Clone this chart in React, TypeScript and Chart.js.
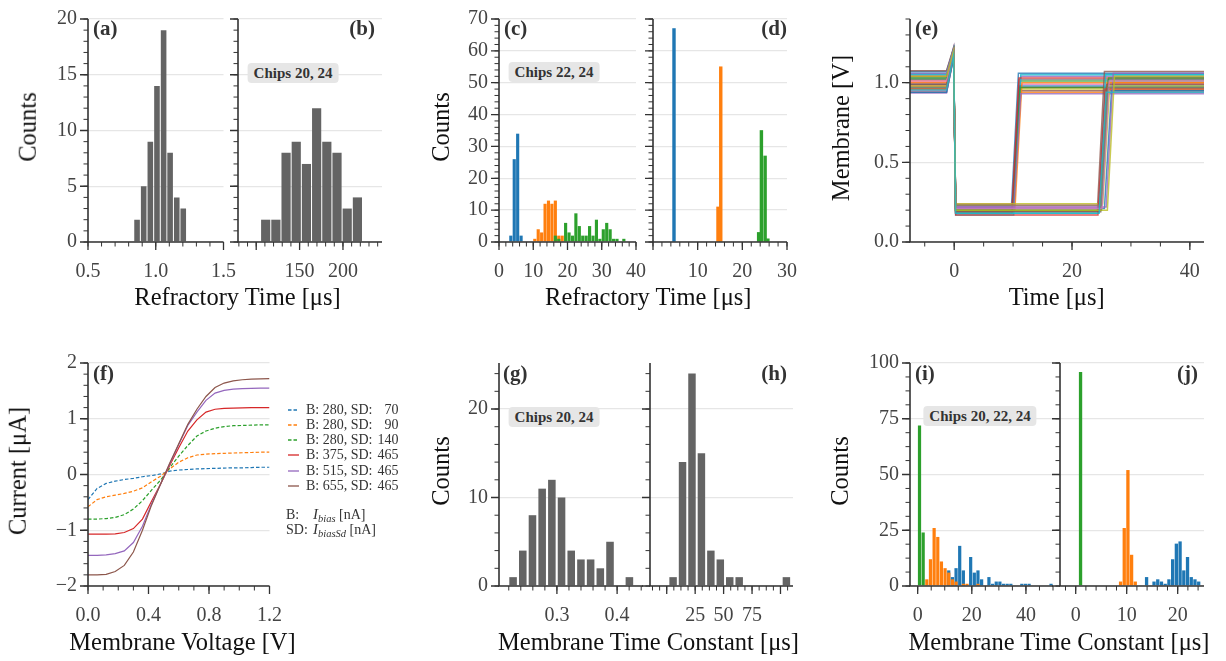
import React, { useEffect, useRef } from 'react';
import { Chart, registerables } from 'chart.js';

Chart.register(...registerables);

const FONT = "'Liberation Serif', 'Times New Roman', Times, serif";
Chart.defaults.font.family = FONT;

const COL_BLUE = '#1f77b4';
const COL_ORANGE = '#ff7f0e';
const COL_GREEN = '#2ca02c';
const COL_RED = '#d62728';
const COL_PURPLE = '#9467bd';
const COL_BROWN = '#8c564b';
const TAB10 = ['#1f77b4', '#ff7f0e', '#2ca02c', '#d62728', '#9467bd', '#8c564b', '#e377c2', '#7f7f7f', '#bcbd22', '#17becf'];
const BAR_GREY = '#646464';
const TICK_COLOR = '#444444';

// ---------- (a) refractory time histogram ----------
const A_X = [0.862, 0.911, 0.96, 1.009, 1.058, 1.106, 1.155, 1.203];
const A_Y = [2, 5, 9, 14, 19, 8, 4, 3];
// ---------- (b) ----------
const B_X = [110.9, 122.65, 134.4, 146.15, 157.9, 169.65, 181.4, 193.15, 204.9, 216.65];
const B_Y = [2, 2, 8, 9, 7, 12, 9, 8, 3, 4];
// ---------- (c) ----------
const C_BLUE_X = [3.45, 4.45, 5.45, 6.45];
const C_BLUE_Y = [2, 26, 34, 2];
const C_ORANGE_X = [10.45, 11.45, 12.45, 13.45, 14.45, 15.45, 16.45, 17.45, 18.45];
const C_ORANGE_Y = [1, 4, 3, 12, 13, 12, 13, 2, 2];
const C_GREEN_X = [16.45, 17.45, 18.45, 19.45, 20.45, 21.45, 22.45, 23.45, 24.45, 25.45, 26.45, 27.45, 28.45, 29.45, 30.45, 31.45, 32.45, 33.45, 34.45, 35.45, 36.45];
const C_GREEN_Y = [2, 1, 0, 6, 3, 2, 9, 5, 2, 2, 5, 2, 7, 1, 4, 6, 4, 1, 1, 0, 1];
// ---------- (d) ----------
const D_BLUE_X = [4.7];
const D_BLUE_Y = [67];
const D_ORANGE_X = [14.55, 15.17];
const D_ORANGE_Y = [11, 55];
const D_GREEN_X = [23.65, 24.27, 25.1, 25.72];
const D_GREEN_Y = [3, 35, 27, 1];
// ---------- (e) membrane traces ----------
const E_PRE = [1.07, 0.95, 1.02, 0.98, 1.05, 0.94, 1.0, 1.03, 0.96, 1.06, 0.99, 1.01, 0.97, 1.04, 0.935, 1.075, 0.95, 1.02, 0.98, 1.05, 0.94, 1.0, 1.03, 0.96, 1.06, 0.99, 1.01, 0.97, 1.04, 0.955];
const E_PEAK = [1.21, 1.17, 1.2, 1.18, 1.22, 1.16, 1.19, 1.2, 1.17, 1.21, 1.18, 1.19, 1.17, 1.2, 1.16, 1.22, 1.17, 1.2, 1.18, 1.21, 1.16, 1.19, 1.2, 1.17, 1.21, 1.18, 1.19, 1.17, 1.2, 1.17];
const E_LOW = [0.21, 0.19, 0.23, 0.18, 0.22, 0.2, 0.24, 0.19, 0.21, 0.17, 0.22, 0.2, 0.23, 0.18, 0.21, 0.2, 0.22, 0.19, 0.24, 0.18, 0.21, 0.23, 0.2, 0.17, 0.22, 0.19, 0.21, 0.23, 0.2, 0.18];
const E_REL = [9.7, 9.9, 10.0, 9.8, 10.1, 9.9, 10.2, 9.8, 10.0, 10.1, 9.9, 10.3, 10.0, 9.8, 10.1, 24.3, 24.6, 24.9, 25.2, 24.5, 25.5, 24.8, 25.0, 24.4, 25.8, 24.7, 25.1, 24.9, 26.0, 24.6];
const E_POST = [1.06, 0.94, 1.01, 0.97, 1.04, 0.95, 0.99, 1.02, 0.96, 1.05, 0.98, 1.0, 0.97, 1.03, 0.93, 1.07, 0.94, 1.02, 0.98, 1.05, 0.95, 1.0, 1.03, 0.96, 1.06, 0.99, 1.01, 0.97, 1.04, 0.94];
const E_T_START = -7.5;
const E_T_RAMP = -1.3;
const E_T_PEAK = -0.1;
const E_T_LOW = 0.25;
const E_RISE = 1.2;
const E_T_END = 42.4;
// ---------- (f) I-V curves ----------
const F_V = [0, 0.06, 0.12, 0.18, 0.24, 0.3, 0.36, 0.42, 0.48, 0.54, 0.6, 0.66, 0.72, 0.78, 0.84, 0.9, 0.96, 1.02, 1.08, 1.14, 1.2];
const F_I_280_70 = [-0.45, -0.25, -0.16, -0.12, -0.09, -0.07, -0.04, -0.02, 0.01, 0.06, 0.08, 0.09, 0.1, 0.105, 0.11, 0.115, 0.12, 0.12, 0.125, 0.13, 0.13];
const F_I_280_90 = [-0.58, -0.45, -0.4, -0.37, -0.34, -0.3, -0.24, -0.13, -0.03, 0.1, 0.22, 0.3, 0.35, 0.365, 0.375, 0.38, 0.385, 0.39, 0.395, 0.4, 0.4];
const F_I_280_140 = [-0.8, -0.8, -0.79, -0.77, -0.72, -0.62, -0.47, -0.28, -0.1, 0.12, 0.33, 0.52, 0.69, 0.78, 0.83, 0.86, 0.875, 0.88, 0.885, 0.89, 0.89];
const F_I_375_465 = [-1.07, -1.07, -1.07, -1.065, -1.04, -0.97, -0.8, -0.48, -0.17, 0.16, 0.48, 0.78, 0.98, 1.12, 1.17, 1.185, 1.19, 1.195, 1.2, 1.2, 1.2];
const F_I_515_465 = [-1.45, -1.45, -1.44, -1.42, -1.37, -1.22, -0.93, -0.53, -0.17, 0.19, 0.54, 0.88, 1.12, 1.33, 1.46, 1.51, 1.53, 1.54, 1.545, 1.55, 1.55];
const F_I_655_465 = [-1.8, -1.8, -1.79, -1.74, -1.63, -1.39, -1.0, -0.55, -0.17, 0.2, 0.55, 0.9, 1.17, 1.4, 1.56, 1.64, 1.68, 1.7, 1.71, 1.715, 1.72];
const F_BIAS = [280, 280, 280, 375, 515, 655];
const F_BIAS_SD = [70, 90, 140, 465, 465, 465];
const F_COLORS = [COL_BLUE, COL_ORANGE, COL_GREEN, COL_RED, COL_PURPLE, COL_BROWN];
const F_DASHED = [true, true, true, false, false, false];
// ---------- (g) membrane time constant ----------
const G_X = [0.2272, 0.2433, 0.2594, 0.2755, 0.2916, 0.3077, 0.3238, 0.3399, 0.356, 0.3721, 0.3882, 0.4043, 0.4204];
const G_Y = [1, 4, 8, 11, 12, 10, 4, 3, 3, 2, 5, 0, 1];
// ---------- (h) ----------
const H_X = [5.6, 13.9, 22.2, 30.5, 38.8, 47.1, 55.4, 63.7, 72.0, 80.3, 88.6, 96.9, 105.2];
const H_Y = [1, 14, 24, 15, 4, 3, 1, 1, 0, 0, 0, 0, 1];
// ---------- (i) ----------
const I_GREEN_X = [0.675, 2.025];
const I_GREEN_Y = [72, 24];
const I_ORANGE_X = [3.375, 4.725, 6.075, 7.425, 8.775, 10.125, 11.475, 12.825, 14.175, 16.875, 18.225, 22.275];
const I_ORANGE_Y = [3, 12, 26, 22, 11, 8, 6, 3, 2, 1, 1, 1];
const I_BLUE_X = [11.475, 12.825, 14.175, 15.525, 16.875, 19.575, 20.925, 22.275, 23.625, 26.325, 27.675, 29.025, 30.375, 31.725, 33.075, 34.425, 38.475, 39.825, 41.175, 49.275];
const I_BLUE_Y = [7, 4, 8, 18, 7, 13, 6, 7, 3, 4, 1, 2, 2, 1, 1, 1, 1, 1, 1, 1];
// ---------- (j) ----------
const J_GREEN_X = [0.95];
const J_GREEN_Y = [96];
const J_ORANGE_X = [8.8, 9.52, 10.24, 10.96, 11.68];
const J_ORANGE_Y = [2, 26, 52, 14, 2];
const J_BLUE_X = [13.9, 14.63, 15.36, 16.09, 16.82, 17.55, 18.28, 19.01, 19.74, 20.47, 21.2, 21.93, 22.66, 23.39, 24.12];
const J_BLUE_Y = [4, 0, 2, 3, 2, 1, 3, 12, 19, 20, 7, 13, 4, 3, 2];

// ---------- axes ----------
type AxisSpec = { min: number; max: number; majors: number[]; labels: string[]; minor: number };
const hide = (a: AxisSpec): AxisSpec => ({ ...a, labels: a.majors.map(() => '') });

const Y_AB: AxisSpec = { min: 0, max: 20, majors: [0, 5, 10, 15, 20], labels: ['0', '5', '10', '15', '20'], minor: 1 };
const Y_CD: AxisSpec = { min: 0, max: 70, majors: [0, 10, 20, 30, 40, 50, 60, 70], labels: ['0', '10', '20', '30', '40', '50', '60', '70'], minor: 2 };
const Y_E: AxisSpec = { min: 0, max: 1.4, majors: [0, 0.5, 1.0], labels: ['0.0', '0.5', '1.0'], minor: 0.1 };
const Y_F: AxisSpec = { min: -2, max: 2, majors: [-2, -1, 0, 1, 2], labels: ['\u22122', '\u22121', '0', '1', '2'], minor: 0.2 };
const Y_GH: AxisSpec = { min: 0, max: 25.2, majors: [0, 10, 20], labels: ['0', '10', '20'], minor: 2 };
const Y_IJ: AxisSpec = { min: 0, max: 100, majors: [0, 25, 50, 75, 100], labels: ['0', '25', '50', '75', '100'], minor: 6.25 };

const X_A: AxisSpec = { min: 0.5, max: 1.5, majors: [0.5, 1.0, 1.5], labels: ['0.5', '1.0', '1.5'], minor: 0.1 };
const X_B: AxisSpec = { min: 79, max: 245, majors: [100, 150, 200], labels: ['', '150', '200'], minor: 10 };
const X_C: AxisSpec = { min: 0, max: 40, majors: [0, 10, 20, 30, 40], labels: ['0', '10', '20', '30', '40'], minor: 2 };
const X_D: AxisSpec = { min: 0, max: 30, majors: [0, 10, 20, 30], labels: ['', '10', '20', '30'], minor: 2 };
const X_E: AxisSpec = { min: -7.5, max: 42.4, majors: [0, 20, 40], labels: ['0', '20', '40'], minor: 5 };
const X_F: AxisSpec = { min: 0, max: 1.2, majors: [0, 0.4, 0.8, 1.2], labels: ['0.0', '0.4', '0.8', '1.2'], minor: 0.1 };
const X_G: AxisSpec = { min: 0.2038, max: 0.443, majors: [0.3, 0.4], labels: ['0.3', '0.4'], minor: 0.02 };
const X_H: AxisSpec = { min: -14.7, max: 111, majors: [0, 25, 50, 75, 100], labels: ['', '25', '50', '75', ''], minor: 6.25 };
const X_I: AxisSpec = { min: -2.84, max: 50, majors: [0, 20, 40], labels: ['0', '20', '40'], minor: 5 };
const X_J: AxisSpec = { min: -3.08, max: 25.16, majors: [0, 10, 20], labels: ['0', '10', '20'], minor: 2 };

function minorTicks(a: AxisSpec): number[] {
  const out: number[] = [];
  const start = Math.ceil(a.min / a.minor - 1e-9);
  for (let k = start; k * a.minor <= a.max + 1e-9; k++) out.push(k * a.minor);
  return out;
}

const pts = (xs: number[], ys: number[]) => xs.map((x, i) => ({ x, y: ys[i] }));
const bar = (xs: number[], ys: number[], color: string, pct: number) => ({
  data: pts(xs, ys),
  backgroundColor: color,
  borderWidth: 0,
  grouped: false,
  barPercentage: pct,
  categoryPercentage: 1,
});

type PanelSpec = {
  key: string; L: number; T: number; R: number; B: number;
  kind: 'bar' | 'line'; datasets: any[]; x: AxisSpec; y: AxisSpec;
};

const ROW1_T = 12, ROW1_B = 242, ROW2_T = 356, ROW2_B = 586;

function eTraces() {
  const ds: any[] = [];
  for (let i = 0; i < E_PRE.length; i++) {
    ds.push({
      data: [
        { x: E_T_START, y: E_PRE[i] },
        { x: E_T_RAMP, y: E_PRE[i] },
        { x: E_T_PEAK, y: E_PEAK[i] },
        { x: E_T_LOW, y: E_LOW[i] },
        { x: E_REL[i], y: E_LOW[i] },
        { x: E_REL[i] + E_RISE, y: E_POST[i] },
        { x: E_T_END, y: E_POST[i] },
      ],
      borderColor: TAB10[i % 10] + 'c8',
      borderWidth: 1.5,
      pointRadius: 0,
      tension: 0,
      fill: false,
    });
  }
  return ds.reverse();
}

function fCurves() {
  const series = [F_I_280_70, F_I_280_90, F_I_280_140, F_I_375_465, F_I_515_465, F_I_655_465];
  return series.map((s, i) => ({
    data: pts(F_V, s),
    borderColor: F_COLORS[i],
    borderWidth: 1.2,
    borderDash: F_DASHED[i] ? [3.5, 2] : [],
    pointRadius: 0,
    tension: 0,
    fill: false,
  })).reverse();
}

const PANELS: PanelSpec[] = [
  { key: 'a', L: 88, T: ROW1_T, R: 232, B: ROW1_B, kind: 'bar', x: X_A, y: Y_AB, datasets: [bar(A_X, A_Y, BAR_GREY, 0.86)] },
  { key: 'b', L: 238, T: ROW1_T, R: 382, B: ROW1_B, kind: 'bar', x: X_B, y: hide(Y_AB), datasets: [bar(B_X, B_Y, BAR_GREY, 0.9)] },
  { key: 'c', L: 499, T: ROW1_T, R: 642, B: ROW1_B, kind: 'bar', x: X_C, y: Y_CD, datasets: [
    bar(C_GREEN_X, C_GREEN_Y, COL_GREEN, 0.92), bar(C_ORANGE_X, C_ORANGE_Y, COL_ORANGE, 0.92), bar(C_BLUE_X, C_BLUE_Y, COL_BLUE, 0.92)] },
  { key: 'd', L: 649, T: ROW1_T, R: 793, B: ROW1_B, kind: 'bar', x: X_D, y: hide(Y_CD), datasets: [
    bar(D_GREEN_X, D_GREEN_Y, COL_GREEN, 1), bar(D_ORANGE_X, D_ORANGE_Y, COL_ORANGE, 1), bar(D_BLUE_X, D_BLUE_Y, COL_BLUE, 1)] },
  { key: 'e', L: 910, T: ROW1_T, R: 1204, B: ROW1_B, kind: 'line', x: X_E, y: Y_E, datasets: eTraces() },
  { key: 'f', L: 88, T: ROW2_T, R: 278, B: ROW2_B, kind: 'line', x: X_F, y: Y_F, datasets: fCurves() },
  { key: 'g', L: 499, T: ROW2_T, R: 643, B: ROW2_B, kind: 'bar', x: X_G, y: Y_GH, datasets: [bar(G_X, G_Y, BAR_GREY, 0.78)] },
  { key: 'h', L: 650, T: ROW2_T, R: 793, B: ROW2_B, kind: 'bar', x: X_H, y: hide(Y_GH), datasets: [bar(H_X, H_Y, BAR_GREY, 0.79)] },
  { key: 'i', L: 910, T: ROW2_T, R: 1053, B: ROW2_B, kind: 'bar', x: X_I, y: Y_IJ, datasets: [
    bar(I_GREEN_X, I_GREEN_Y, COL_GREEN, 0.88), bar(I_ORANGE_X, I_ORANGE_Y, COL_ORANGE, 0.88), bar(I_BLUE_X, I_BLUE_Y, COL_BLUE, 0.88)] },
  { key: 'j', L: 1060, T: ROW2_T, R: 1204, B: ROW2_B, kind: 'bar', x: X_J, y: hide(Y_IJ), datasets: [
    bar(J_GREEN_X, J_GREEN_Y, COL_GREEN, 0.9), bar(J_ORANGE_X, J_ORANGE_Y, COL_ORANGE, 0.9), bar(J_BLUE_X, J_BLUE_Y, COL_BLUE, 0.9)] },
];

function makeAxesPlugin(spec: PanelSpec) {
  const xMaj = spec.x.majors, yMaj = spec.y.majors;
  const xMin = minorTicks(spec.x), yMin = minorTicks(spec.y);
  return {
    id: 'mplAxes_' + spec.key,
    afterDatasetsDraw(chart: any) {
      const { ctx, chartArea: ca } = chart;
      const xs = chart.scales.x, ys = chart.scales.y;
      ctx.save();
      ctx.strokeStyle = '#333333';
      const tick = (vals: number[], len: number, w: number, horiz: boolean) => {
        ctx.lineWidth = w;
        ctx.beginPath();
        for (const v of vals) {
          if (horiz) {
            const p = xs.getPixelForValue(v);
            if (p < ca.left - 0.5 || p > ca.right + 0.5) continue;
            ctx.moveTo(p, ca.bottom);
            ctx.lineTo(p, ca.bottom + len);
          } else {
            const p = ys.getPixelForValue(v);
            if (p < ca.top - 0.5 || p > ca.bottom + 0.5) continue;
            ctx.moveTo(ca.left, p);
            ctx.lineTo(ca.left - len, p);
          }
        }
        ctx.stroke();
      };
      tick(xMin, 4.5, 1, true);
      tick(xMaj, 8, 1.3, true);
      tick(yMin, 4.5, 1, false);
      tick(yMaj, 8, 1.3, false);
      ctx.lineWidth = 1.6;
      ctx.beginPath();
      ctx.moveTo(ca.left, ca.top);
      ctx.lineTo(ca.left, ca.bottom);
      ctx.lineTo(ca.right, ca.bottom);
      ctx.stroke();
      ctx.restore();
    },
  };
}

const M_R = 22, M_T = 16, M_B = 50;

function ChartPanel({ spec }: { spec: PanelSpec }) {
  const ref = useRef<HTMLCanvasElement>(null);
  const mL = spec.y.labels.some((l) => l) ? 64 : 14;
  const w = spec.R - spec.L + mL + M_R;
  const h = spec.B - spec.T + M_T + M_B;
  useEffect(() => {
    if (!ref.current) return;
    const tickFont = { family: FONT, size: 20 };
    const chart = new Chart(ref.current, {
      type: spec.kind,
      data: { datasets: spec.datasets },
      plugins: [makeAxesPlugin(spec)],
      options: {
        responsive: false,
        animation: false,
        events: [],
        layout: { padding: { left: 0, right: M_R, top: M_T, bottom: 0 } },
        plugins: { legend: { display: false }, tooltip: { enabled: false } },
        scales: {
          x: {
            type: 'linear',
            min: spec.x.min,
            max: spec.x.max,
            bounds: 'data',
            offset: false,
            grid: { display: false, drawTicks: false },
            border: { display: false },
            afterBuildTicks: (s: any) => { s.ticks = spec.x.majors.map((v) => ({ value: v })); },
            afterFit: (s: any) => { s.height = M_B; },
            ticks: {
              autoSkip: false, maxRotation: 0, minRotation: 0, padding: 18,
              font: tickFont, color: TICK_COLOR,
              callback: (_v: any, i: number) => spec.x.labels[i] ?? '',
            },
          },
          y: {
            type: 'linear',
            min: spec.y.min,
            max: spec.y.max,
            bounds: 'data',
            grid: { color: '#e6e6e6', lineWidth: 1.3, drawTicks: false },
            border: { display: false },
            afterBuildTicks: (s: any) => { s.ticks = spec.y.majors.map((v) => ({ value: v })); },
            afterFit: (s: any) => { s.width = mL; },
            ticks: {
              autoSkip: false, padding: 11,
              font: tickFont, color: TICK_COLOR,
              callback: (_v: any, i: number) => spec.y.labels[i] ?? '',
            },
          },
        },
      } as any,
    });
    return () => chart.destroy();
  }, []);
  return (
    <canvas
      ref={ref}
      width={w}
      height={h}
      style={{ position: 'absolute', left: spec.L - mL, top: spec.T - M_T, width: w, height: h }}
    />
  );
}

type TxtProps = {
  x: number; y: number; children: React.ReactNode; size?: number; rotate?: boolean;
  bold?: boolean; color?: string; anchor?: 'center' | 'left' | 'right';
};
function Txt({ x, y, children, size = 24.5, rotate = false, bold = false, color = '#111', anchor = 'center' }: TxtProps) {
  const tx = anchor === 'center' ? '-50%' : anchor === 'left' ? '0' : '-100%';
  return (
    <div
      style={{
        position: 'absolute', left: x, top: y, whiteSpace: 'pre', lineHeight: 1,
        fontFamily: FONT, fontSize: size, fontWeight: bold ? 700 : 400, color,
        transform: `translate(${tx}, -50%)${rotate ? ' rotate(-90deg)' : ''}`,
      }}
    >
      {children}
    </div>
  );
}

function ChipBox({ x, y, text }: { x: number; y: number; text: string }) {
  return (
    <div
      style={{
        position: 'absolute', left: x, top: y, transform: 'translate(-50%, -50%)',
        background: '#e6e6e6', borderRadius: 4, padding: '2px 6px', whiteSpace: 'nowrap',
        fontFamily: FONT, fontWeight: 700, fontSize: 15, color: '#333', lineHeight: '16px',
      }}
    >
      {text}
    </div>
  );
}

const PANEL_LABEL_SIZE = 21;
const ROW1_TITLE_Y = 297;
const ROW2_TITLE_Y = 642;

export default function App() {
  const legendY = [409.5, 424.8, 440.1, 455.4, 470.7, 486];
  return (
    <div style={{ position: 'fixed', left: 0, top: 0, width: 1226, height: 661, background: '#fff', overflow: 'hidden' }}>
      {PANELS.map((p) => <ChartPanel key={p.key} spec={p} />)}

      {/* panel letters */}
      <Txt x={93} y={28} bold size={PANEL_LABEL_SIZE} color="#333" anchor="left">(a)</Txt>
      <Txt x={375} y={28} bold size={PANEL_LABEL_SIZE} color="#333" anchor="right">(b)</Txt>
      <Txt x={504} y={28} bold size={PANEL_LABEL_SIZE} color="#333" anchor="left">(c)</Txt>
      <Txt x={787} y={28} bold size={PANEL_LABEL_SIZE} color="#333" anchor="right">(d)</Txt>
      <Txt x={915} y={28} bold size={PANEL_LABEL_SIZE} color="#333" anchor="left">(e)</Txt>
      <Txt x={93} y={372.5} bold size={PANEL_LABEL_SIZE} color="#333" anchor="left">(f)</Txt>
      <Txt x={503} y={372.5} bold size={PANEL_LABEL_SIZE} color="#333" anchor="left">(g)</Txt>
      <Txt x={787} y={372.5} bold size={PANEL_LABEL_SIZE} color="#333" anchor="right">(h)</Txt>
      <Txt x={915} y={372.5} bold size={PANEL_LABEL_SIZE} color="#333" anchor="left">(i)</Txt>
      <Txt x={1198} y={372.5} bold size={PANEL_LABEL_SIZE} color="#333" anchor="right">(j)</Txt>

      {/* chip annotations */}
      <ChipBox x={293} y={73} text="Chips 20, 24" />
      <ChipBox x={554} y={72} text="Chips 22, 24" />
      <ChipBox x={554} y={417} text="Chips 20, 24" />
      <ChipBox x={980} y={416} text="Chips 20, 22, 24" />

      {/* axis titles */}
      <Txt x={28} y={127} rotate>Counts</Txt>
      <Txt x={441} y={127} rotate>Counts</Txt>
      <Txt x={840.5} y={128} rotate>Membrane [V]</Txt>
      <Txt x={17.5} y={471} rotate>Current [μA]</Txt>
      <Txt x={441} y={471} rotate>Counts</Txt>
      <Txt x={839.5} y={471} rotate>Counts</Txt>

      <Txt x={237.5} y={ROW1_TITLE_Y}>Refractory Time [μs]</Txt>
      <Txt x={648.3} y={ROW1_TITLE_Y}>Refractory Time [μs]</Txt>
      <Txt x={1056.7} y={ROW1_TITLE_Y}>Time [μs]</Txt>
      <Txt x={182.5} y={ROW2_TITLE_Y}>Membrane Voltage [V]</Txt>
      <Txt x={648.5} y={ROW2_TITLE_Y}>Membrane Time Constant [μs]</Txt>
      <Txt x={1059} y={ROW2_TITLE_Y}>Membrane Time Constant [μs]</Txt>

      {/* legend of (f) */}
      {F_BIAS.map((b, i) => (
        <div key={i} style={{ position: 'absolute', left: 288, top: legendY[i], transform: 'translateY(-50%)', display: 'flex', alignItems: 'center', fontFamily: FONT, fontSize: 14, color: '#333', lineHeight: 1, whiteSpace: 'pre' }}>
          <svg width={11} height={4} style={{ display: 'block' }}>
            <line x1={0} y1={2} x2={11} y2={2} stroke={F_COLORS[i]} strokeWidth={1.3} strokeDasharray={F_DASHED[i] ? '3.5,2' : undefined} />
          </svg>
          <span style={{ marginLeft: 7 }}>{`B: ${b}, SD:`}</span>
          <span style={{ display: 'inline-block', width: 26, textAlign: 'right' }}>{String(F_BIAS_SD[i])}</span>
        </div>
      ))}
      <div style={{ position: 'absolute', left: 286, top: 515.5, transform: 'translateY(-50%)', fontFamily: FONT, fontSize: 14, color: '#333', lineHeight: 1, whiteSpace: 'pre' }}>
        <span style={{ display: 'inline-block', width: 27 }}>B:</span>
        <i style={{ fontSize: 15 }}>I</i><sub style={{ fontSize: 10.5, fontStyle: 'italic', verticalAlign: '-3px' }}>bias</sub> [nA]
      </div>
      <div style={{ position: 'absolute', left: 286, top: 531, transform: 'translateY(-50%)', fontFamily: FONT, fontSize: 14, color: '#333', lineHeight: 1, whiteSpace: 'pre' }}>
        <span style={{ display: 'inline-block', width: 27 }}>SD:</span>
        <i style={{ fontSize: 15 }}>I</i><sub style={{ fontSize: 10.5, fontStyle: 'italic', verticalAlign: '-3px' }}>biasSd</sub> [nA]
      </div>
    </div>
  );
}
